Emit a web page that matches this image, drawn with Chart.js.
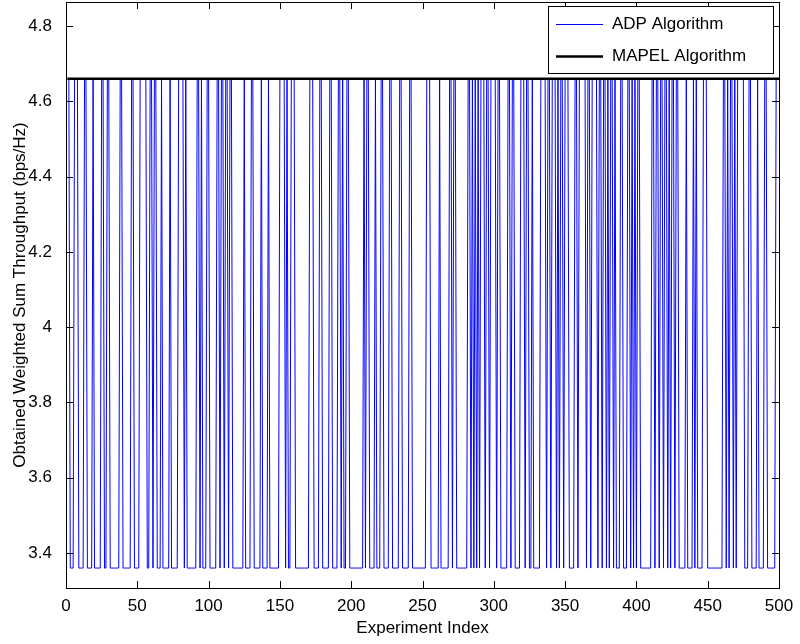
<!DOCTYPE html>
<html>
<head>
<meta charset="utf-8">
<script src="https://cdn.jsdelivr.net/npm/chart.js@4.4.0/dist/chart.umd.min.js"></script>
<style>
    html, body { margin: 0; padding: 0; background: #fff; }
    #wrap { width: 800px; height: 644px; }
</style>
</head>
<body>
<div id="wrap"><canvas id="chart" width="800" height="644"></canvas></div>
<script>
// Values
const ADP_HIGH = 4.66;
const ADP_LOW = 3.36;
const MAPEL_VALUE = 4.66;
const N_EXPERIMENTS = 500;

// experiment index ranges where ADP fell to the low value
const lowRuns = [
    [3, 5], [9, 12], [15, 18], [20, 24], [27, 28], [31, 37],
    [40, 45], [48, 51], [57, 58], [61, 61], [64, 66], [68, 72], [74, 78],
    [83, 83], [85, 91], [94, 94], [96, 98], [101, 105], [108, 108], [111, 111], [114, 114], [117, 124],
    [126, 129], [132, 136], [138, 141], [143, 149], [154, 154], [156, 157], [161, 170],
    [174, 177], [180, 184], [187, 190], [193, 193], [195, 196], [199, 208],
    [210, 210], [213, 216], [218, 220], [223, 226], [229, 233], [236, 240], [243, 252],
    [256, 261], [263, 268], [271, 271], [274, 281], [284, 284], [286, 286], [288, 288], [290, 290],
    [294, 294], [297, 297], [302, 302], [305, 309], [312, 312], [315, 318], [322, 322], [325, 326], [328, 332],
    [337, 337], [340, 340], [344, 344], [346, 346], [349, 349], [353, 356], [359, 359], [365, 365], [368, 368], [373, 373], [376, 376],
    [379, 379], [381, 381], [384, 384], [386, 388], [391, 393], [396, 396], [398, 398], [400, 400], [403, 410], [413, 413], [416, 416],
    [419, 419], [422, 422], [424, 424], [427, 427], [430, 434], [436, 439], [441, 441], [443, 446], [450, 460],
    [463, 463], [465, 465], [468, 468], [470, 470], [476, 478], [481, 484], [486, 489], [492, 497]
];

const xTicks = [0, 50, 100, 150, 200, 250, 300, 350, 400, 450, 500];
const yTicks = [3.4, 3.6, 3.8, 4.0, 4.2, 4.4, 4.6, 4.8];
const Y_MIN = 3.307;
const Y_MAX = 4.864;

const FONT = '"Liberation Sans", Arial, Helvetica, sans-serif';
const FONT_SIZE = 17;

// build the series
function isLow(i) {
    return lowRuns.some(r => i >= r[0] && i <= r[1]);
}
const adpPoints = [];
const mapelPoints = [];
for (let i = 1; i <= N_EXPERIMENTS; i++) {
    adpPoints.push({ x: i, y: isLow(i) ? ADP_LOW : ADP_HIGH });
    mapelPoints.push({ x: i, y: MAPEL_VALUE });
}

// MATLAB-style box, inward ticks and legend
const matlabFrame = {
    id: 'matlabFrame',
    afterDatasetsDraw(chart) {
        const { ctx, chartArea: a, scales } = chart;
        const tick = 7;
        ctx.save();
        ctx.strokeStyle = '#000';
        ctx.lineWidth = 1;
        ctx.beginPath();
        xTicks.forEach(v => {
            const px = Math.round(scales.x.getPixelForValue(v)) + 0.5;
            ctx.moveTo(px, a.bottom); ctx.lineTo(px, a.bottom - tick);
            ctx.moveTo(px, a.top); ctx.lineTo(px, a.top + tick);
        });
        yTicks.forEach(v => {
            const py = Math.round(scales.y.getPixelForValue(v)) + 0.5;
            ctx.moveTo(a.left, py); ctx.lineTo(a.left + tick, py);
            ctx.moveTo(a.right, py); ctx.lineTo(a.right - tick, py);
        });
        ctx.stroke();
        ctx.strokeRect(Math.round(a.left) + 0.5, Math.round(a.top) + 0.5,
            Math.round(a.right - a.left), Math.round(a.bottom - a.top));

        // legend
        const lx = 548, ly = 6, lw = 225, lh = 67;
        ctx.fillStyle = '#fff';
        ctx.fillRect(lx, ly, lw, lh);
        ctx.strokeRect(lx + 0.5, ly + 0.5, lw, lh);
        const items = [
            { label: 'ADP Algorithm', color: '#0000ff', width: 1, y: ly + 18 },
            { label: 'MAPEL Algorithm', color: '#000000', width: 2.5, y: ly + 50 }
        ];
        ctx.font = FONT_SIZE + 'px ' + FONT;
        ctx.textBaseline = 'middle';
        items.forEach(it => {
            ctx.strokeStyle = it.color;
            ctx.lineWidth = it.width;
            ctx.beginPath();
            ctx.moveTo(lx + 8, it.y + 0.5);
            ctx.lineTo(lx + 55, it.y + 0.5);
            ctx.stroke();
            ctx.fillStyle = '#000';
            ctx.fillText(it.label, lx + 64, it.y);
        });
        ctx.restore();
    }
};

new Chart(document.getElementById('chart'), {
    type: 'line',
    data: {
        datasets: [
            {
                label: 'ADP Algorithm',
                data: adpPoints,
                borderColor: '#0000ff',
                borderWidth: 1,
                pointRadius: 0,
                tension: 0,
                order: 2
            },
            {
                label: 'MAPEL Algorithm',
                data: mapelPoints,
                borderColor: '#000000',
                borderWidth: 2.5,
                pointRadius: 0,
                tension: 0,
                order: 1
            }
        ]
    },
    options: {
        responsive: false,
        animation: false,
        devicePixelRatio: 1,
        layout: { padding: { top: 2, right: 21, left: 0, bottom: 0 } },
        plugins: {
            legend: { display: false },
            tooltip: { enabled: false }
        },
        scales: {
            x: {
                type: 'linear',
                min: 0,
                max: 500,
                grid: { display: false },
                border: { display: false },
                afterBuildTicks: s => { s.ticks = xTicks.map(v => ({ value: v })); },
                afterFit: s => { s.height = 56; s.paddingLeft = 0; s.paddingRight = 0; },
                ticks: {
                    color: '#000',
                    font: { family: FONT, size: FONT_SIZE },
                    padding: 0,
                    maxRotation: 0
                },
                title: {
                    display: true,
                    text: 'Experiment Index',
                    color: '#000',
                    font: { family: FONT, size: FONT_SIZE },
                    padding: { top: 0, bottom: 5 }
                }
            },
            y: {
                min: Y_MIN,
                max: Y_MAX,
                grid: { display: false },
                border: { display: false },
                afterBuildTicks: s => { s.ticks = yTicks.map(v => ({ value: v })); },
                afterFit: s => { s.width = 66; s.paddingTop = 0; s.paddingBottom = 0; },
                ticks: {
                    color: '#000',
                    font: { family: FONT, size: FONT_SIZE },
                    padding: 6,
                    callback: v => (Math.abs(v - 4) < 1e-9 ? '4' : v.toFixed(1))
                },
                title: {
                    display: true,
                    text: 'Obtained Weighted Sum Throughput (bps/Hz)',
                    color: '#000',
                    font: { family: FONT, size: FONT_SIZE },
                    padding: { top: 10, bottom: 0 }
                }
            }
        }
    },
    plugins: [matlabFrame]
});
</script>
</body>
</html>
